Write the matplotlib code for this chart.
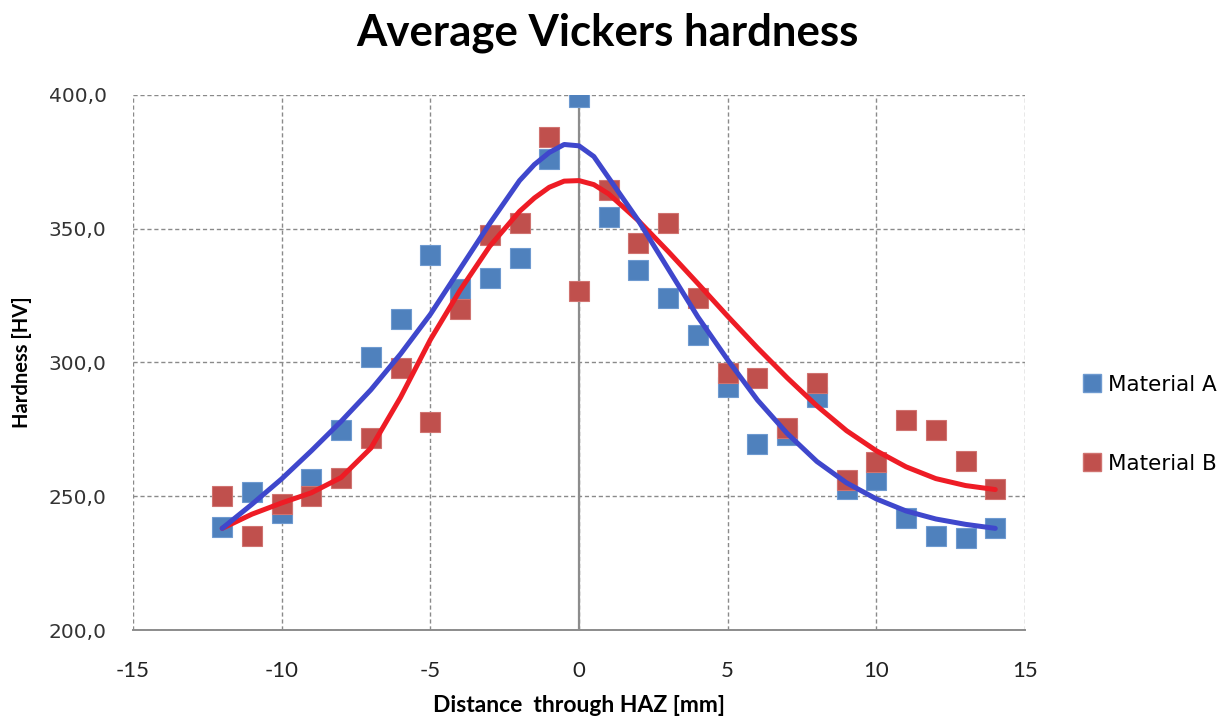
import numpy as np
import matplotlib.pyplot as plt
from matplotlib.lines import Line2D

plt.rcParams['axes.unicode_minus'] = False

# measured hardness along the HAZ
distance = [-12, -11, -10, -9, -8, -7, -6, -5, -4, -3, -2, -1, 0,
            1, 2, 3, 4, 5, 6, 7, 8, 9, 10, 11, 12, 13, 14]
hv_a = [238.5, 251.5, 243.8, 256.5, 274.8, 302.2, 316.1, 340.0, 327.4, 331.5, 339.2, 376.0, 399.4,
        354.5, 334.6, 324.0, 310.3, 291.0, 269.4, 272.9, 287.2, 252.6, 256.0, 241.8, 235.0, 234.3, 238.0]
hv_b = [250.2, 235.0, 247.0, 250.2, 256.7, 271.7, 297.8, 277.9, 319.9, 347.7, 352.0, 384.4, 326.9,
        364.5, 344.6, 352.3, 324.0, 296.2, 294.1, 275.4, 292.2, 255.9, 262.9, 278.5, 274.8, 263.3, 252.6]

# trend curves
trend_x = [-12, -11, -10, -9, -8, -7, -6, -5, -4, -3, -2, -1.5, -1, -0.5, 0, 0.5,
           1, 2, 3, 4, 5, 6, 7, 8, 9, 10, 11, 12, 13, 14]
trend_a = [238.0, 247.0, 256.5, 267.0, 278.0, 289.8, 303.2, 318.0, 335.0, 352.0, 368.0, 374.0, 378.5, 381.5, 381.0, 377.0,
           369.0, 353.0, 335.0, 317.0, 301.0, 286.0, 273.5, 263.0, 255.0, 249.0, 244.5, 241.5, 239.5, 238.0]
trend_b = [238.0, 243.3, 247.5, 251.3, 257.0, 268.0, 287.0, 308.5, 327.0, 343.5, 356.5, 361.5, 365.5, 367.8, 368.0, 366.5,
           363.0, 353.0, 341.5, 329.5, 317.3, 305.5, 294.3, 283.8, 274.5, 267.0, 261.0, 256.6, 254.0, 252.5]

blue = '#4F81BD'
red = '#C0504D'

fig = plt.figure(figsize=(12.3, 7.2), dpi=100)
ax = fig.add_axes([133/1230, 1-630/720, (1025-133)/1230, (630-95)/720])

ax.plot(distance, hv_a, 's', ms=14, color=blue, mec='#6E9AD0', mew=0.8, zorder=3)
ax.plot(distance, hv_b, 's', ms=14, color=red, mec='#D07370', mew=0.8, zorder=3)
ax.plot(trend_x, trend_b, '-', color='#EE1C25', lw=3.6, solid_capstyle='round', zorder=4)
ax.plot(trend_x, trend_a, '-', color='#3F47CC', lw=3.6, solid_capstyle='round', zorder=5)

yt = np.arange(200, 401, 50)
ax.set_xlim(-15, 15)
ax.set_ylim(200, 400)
ax.set_xticks(np.arange(-15, 16, 5))
ax.set_yticks(yt)
ax.set_yticklabels([('%.1f' % v).replace('.', ',') for v in yt])
ax.grid(True, color='#8a8a8a', linestyle=(0, (3, 2)), linewidth=1.0)
ax.set_axisbelow(True)
for s in ['left', 'top', 'right']:
    ax.spines[s].set_visible(False)
ax.spines['bottom'].set_color('#8c8c8c')
ax.spines['bottom'].set_linewidth(1.4)
ax.axvline(0, color='#8c8c8c', lw=1.6, zorder=1)
ax.tick_params(length=0)
ax.tick_params(axis='x', pad=22, labelsize=16, labelcolor='#222222')
ax.tick_params(axis='y', pad=19, labelsize=14.5, labelcolor='#333333')
for t in ax.get_xticklabels():
    t.set_family('Lato')
for t in ax.get_yticklabels():
    t.set_family('DejaVu Sans')

fig.text(607/1230, 1-33/720, 'Average Vickers hardness', ha='center', va='center',
         family='Lato', weight='bold', fontsize=31.5)
fig.text(579/1230, 1-706/720, 'Distance  through HAZ [mm]', ha='center', va='center',
         family='Lato', weight='bold', fontsize=16.5)
fig.text(22/1230, 1-362/720, 'Hardness [HV]', ha='center', va='center', rotation=90,
         family='Lato', weight='bold', fontsize=14.5)

handles = [Line2D([], [], ls='', marker='s', ms=12.5, color=blue, mec='#6E9AD0'),
           Line2D([], [], ls='', marker='s', ms=12.5, color=red, mec='#D07370')]
fig.legend(handles, ['Material A', 'Material B'], loc='upper left',
           bbox_to_anchor=(1075/1230, 1-366/720), frameon=False, fontsize=15.5,
           handlelength=0.8, handletextpad=0.35, labelspacing=2.75, borderaxespad=0)

fig.savefig('out.png', dpi=100)
